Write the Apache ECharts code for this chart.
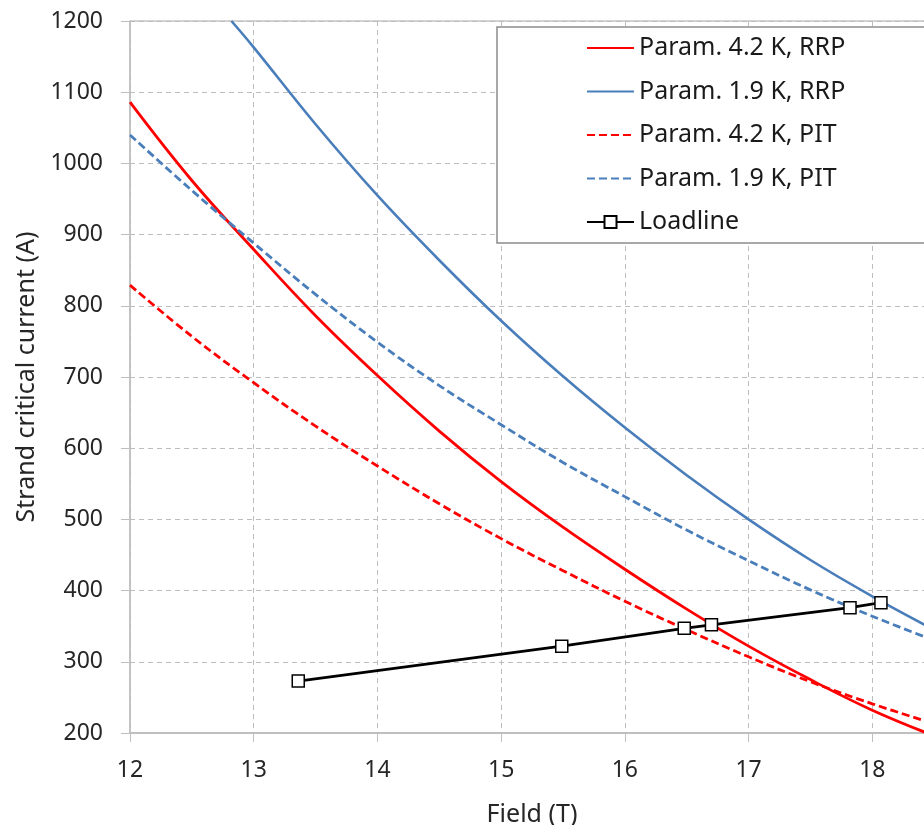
<!DOCTYPE html>
<html>
<head>
<meta charset="utf-8">
<script src="https://cdn.jsdelivr.net/npm/echarts@6/dist/echarts.min.js"></script>
<style>
html,body{margin:0;padding:0;background:#fff;}
#chart{width:924px;height:825px;}
</style>
</head>
<body>
<div id="chart"></div>
<script>
// Field grid (T) shared by three parameterisations
const fieldGrid = [12, 12.5, 13, 13.5, 14, 14.5, 15, 15.5, 16, 16.5, 17, 17.5, 18, 18.5];
// Strand critical current (A)
const ic42RRP = [1086, 976, 879, 786, 702, 624, 553, 489, 430, 374, 322, 275, 232, 196];
const ic42PIT = [829, 757, 692, 631, 575, 522, 473, 428, 385, 345, 307, 272, 241, 213];
const ic19PIT = [1040, 962, 888, 816, 749, 688, 633, 580, 532, 485, 442, 401, 364, 330];
// 1.9 K RRP curve (enters the plot at 1200 A)
const rrp19Field = [12.82, 13, 13.5, 14, 14.5, 15, 15.5, 16, 16.5, 17, 17.5, 18, 18.5];
const ic19RRP = [1200, 1163, 1055, 955, 864, 779, 701, 629, 562, 500, 443, 392, 345];
// Loadline
const loadField = [13.36, 15.49, 16.48, 16.70, 17.82, 18.07];
const loadCurrent = [273, 322, 347, 352, 376, 383];
// Axis ticks
const xTicks = { min: 12, max: 19, step: 1 };
const yTicks = { min: 200, max: 1200, step: 100 };

const seriesNames = ['Param. 4.2 K, RRP', 'Param. 1.9 K, RRP', 'Param. 4.2 K, PIT', 'Param. 1.9 K, PIT', 'Loadline'];

const zip = (xs, ys) => xs.map((x, i) => [x, ys[i]]);
const FONT = 'Noto Sans';
const RED = '#FF0000';
const BLUE = '#4A7EBB';

const chart = echarts.init(document.getElementById('chart'));
chart.setOption({
  animation: false,
  backgroundColor: '#ffffff',
  textStyle: { fontFamily: FONT },
  grid: {
    left: 130, top: 21, bottom: 92, right: -72,
    outerBoundsMode: 'none',
    containLabel: false,
    show: true, borderColor: '#a6a6a6', borderWidth: 1, backgroundColor: 'transparent'
  },
  legend: {
    orient: 'vertical',
    left: 497, top: 27,
    padding: [8, 300, 8, 89],
    backgroundColor: '#ffffff',
    borderColor: '#8c8c8c',
    borderWidth: 1.5,
    itemWidth: 47,
    itemHeight: 15,
    itemGap: 17.5,
    data: seriesNames.map((n, i) => i < 4 ? { name: n, itemStyle: { opacity: 0 } } : { name: n }),
    textStyle: { fontFamily: FONT, fontSize: 25, color: '#1a1a1a', lineHeight: 26 }
  },
  xAxis: {
    type: 'value',
    min: xTicks.min, max: xTicks.max, interval: xTicks.step,
    name: 'Field (T)',
    nameLocation: 'middle',
    nameGap: 69,
    nameTextStyle: { fontFamily: FONT, fontSize: 25, color: '#262626', padding: [0, 62, 0, 0] },
    axisLine: { show: true, onZero: false, lineStyle: { color: '#bfbfbf', width: 2 } },
    axisTick: { show: true, inside: false, length: 9, lineStyle: { color: '#bfbfbf', width: 1 } },
    axisLabel: { fontFamily: FONT, fontSize: 23, color: '#262626', margin: 26 },
    splitLine: { show: true, lineStyle: { color: '#bdbdbd', type: [5, 4], width: 1 } }
  },
  yAxis: {
    type: 'value',
    min: yTicks.min, max: yTicks.max, interval: yTicks.step,
    name: 'Strand critical current (A)',
    nameLocation: 'middle',
    nameGap: 91,
    nameTextStyle: { fontFamily: FONT, fontSize: 25, color: '#262626' },
    axisLine: { show: true, onZero: false, lineStyle: { color: '#bfbfbf', width: 1.5 } },
    axisTick: { show: true, inside: false, length: 9, lineStyle: { color: '#bfbfbf', width: 1 } },
    axisLabel: { fontFamily: FONT, fontSize: 23, color: '#262626', margin: 27, formatter: v => String(v) },
    splitLine: { show: true, lineStyle: { color: '#bdbdbd', type: [5, 4], width: 1 } }
  },
  series: [
    {
      name: seriesNames[0], type: 'line', data: zip(fieldGrid, ic42RRP),
      smooth: 0.4, symbol: 'none', clip: true,
      lineStyle: { color: RED, width: 2.8 }, itemStyle: { color: RED }
    },
    {
      name: seriesNames[1], type: 'line', data: zip(rrp19Field, ic19RRP),
      smooth: 0.4, symbol: 'none', clip: true,
      lineStyle: { color: BLUE, width: 2.6 }, itemStyle: { color: BLUE }
    },
    {
      name: seriesNames[2], type: 'line', data: zip(fieldGrid, ic42PIT),
      smooth: 0.4, symbol: 'none', clip: true,
      lineStyle: { color: RED, width: 2.8, type: [8, 4] }, itemStyle: { color: RED }
    },
    {
      name: seriesNames[3], type: 'line', data: zip(fieldGrid, ic19PIT),
      smooth: 0.4, symbol: 'none', clip: true,
      lineStyle: { color: BLUE, width: 2.8, type: [8, 4] }, itemStyle: { color: BLUE }
    },
    {
      name: seriesNames[4], type: 'line', data: zip(loadField, loadCurrent),
      symbol: 'rect', symbolSize: 12, showSymbol: true, clip: true,
      lineStyle: { color: '#000000', width: 2.8 },
      itemStyle: { color: '#ffffff', borderColor: '#000000', borderWidth: 1.5 },
      z: 5
    }
  ]
});
</script>
</body>
</html>
